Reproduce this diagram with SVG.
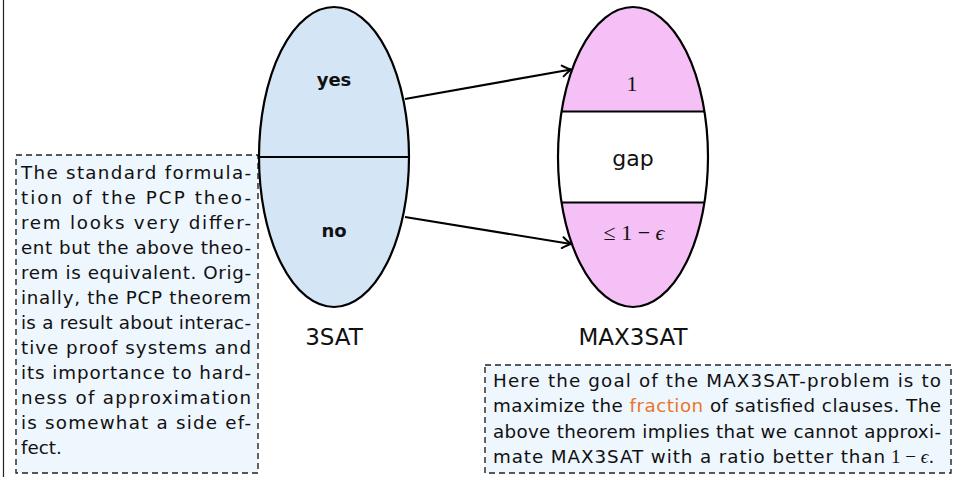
<svg xmlns="http://www.w3.org/2000/svg" width="962" height="477" viewBox="0 0 962 477">
<style>
.t{font-family:"DejaVu Sans","Liberation Sans",sans-serif;fill:#111}
.box{font-size:18.3px}
.note{fill:#eef6fe;stroke:#222;stroke-width:1.4;stroke-dasharray:6 4}
.ell{stroke:#000;stroke-width:2.2}
.lbl{font-size:18px;font-weight:bold;text-anchor:middle}
.name{font-size:23px;text-anchor:middle}
.m{font-family:"Liberation Serif","DejaVu Serif",serif}
.conn{stroke:#000;stroke-width:2.2;fill:none}
</style>
<defs>
<marker id="ah" markerWidth="14" markerHeight="14" refX="0" refY="0" viewBox="-10 -7 12 14" orient="auto" markerUnits="userSpaceOnUse">
<path d="M-8.5,-5.5 Q-3,-1.5 0,0 Q-3,1.5 -8.5,5.5" fill="none" stroke="#000" stroke-width="2" stroke-linecap="round"/>
</marker>
<clipPath id="rc"><ellipse cx="633" cy="157" rx="75" ry="150"/></clipPath>
</defs>
<line x1="3.5" y1="0" x2="3.5" y2="477" stroke="#222" stroke-width="1.2"/>

<g id="note-left">
<rect class="note" x="16" y="155" width="242" height="318"/>
<g class="t box">
<text x="21" y="179" textLength="230" lengthAdjust="spacing">The standard formula-</text>
<text x="21" y="204" textLength="230" lengthAdjust="spacing">tion of the PCP theo-</text>
<text x="21" y="229" textLength="230" lengthAdjust="spacing">rem looks very differ-</text>
<text x="21" y="254" textLength="230" lengthAdjust="spacing">ent but the above theo-</text>
<text x="21" y="279" textLength="230" lengthAdjust="spacing">rem is equivalent. Orig-</text>
<text x="21" y="304" textLength="230" lengthAdjust="spacing">inally, the PCP theorem</text>
<text x="21" y="329" textLength="230" lengthAdjust="spacing">is a result about interac-</text>
<text x="21" y="354" textLength="230" lengthAdjust="spacing">tive proof systems and</text>
<text x="21" y="379" textLength="230" lengthAdjust="spacing">its importance to hard-</text>
<text x="21" y="404" textLength="230" lengthAdjust="spacing">ness of approximation</text>
<text x="21" y="429" textLength="230" lengthAdjust="spacing">is somewhat a side ef-</text>
<text x="21" y="454">fect.</text>
</g>
</g>

<g id="sat3">
<ellipse class="ell" cx="334" cy="157" rx="75" ry="150" fill="#d4e5f6"/>
<line class="ell" x1="259" y1="157" x2="409" y2="157"/>
<text class="t lbl" x="334" y="86">yes</text>
<text class="t lbl" x="334" y="237">no</text>
<text class="t name" x="334" y="345">3SAT</text>
</g>

<g id="max3sat">
<ellipse cx="633" cy="157" rx="75" ry="150" fill="#f5c0f5"/>
<rect x="555" y="111.5" width="160" height="91" fill="#fff" clip-path="url(#rc)"/>
<line class="ell" x1="561.5" y1="111.5" x2="704.5" y2="111.5"/>
<line class="ell" x1="561.5" y1="202.5" x2="704.5" y2="202.5"/>
<ellipse class="ell" cx="633" cy="157" rx="75" ry="150" fill="none"/>
<text class="m" x="632" y="91" font-size="22" text-anchor="middle" fill="#111">1</text>
<text class="t" x="633" y="166" font-size="22" text-anchor="middle">gap</text>
<text class="m" x="634" y="240" font-size="22" text-anchor="middle" fill="#111">≤ 1 − <tspan font-style="italic">ϵ</tspan></text>
<text class="t name" x="633" y="345">MAX3SAT</text>
</g>

<g id="note-right">
<rect class="note" x="485" y="365" width="466" height="108"/>
<g class="t box">
<text x="493" y="387" textLength="448" lengthAdjust="spacing">Here the goal of the MAX3SAT-problem is to</text>
<text x="493" y="412" textLength="448" lengthAdjust="spacing">maximize the <tspan fill="#e8772a">fraction</tspan> of satisfied clauses. The</text>
<text x="493" y="438" textLength="448" lengthAdjust="spacing">above theorem implies that we cannot approxi-</text>
<text x="493" y="463" textLength="392" lengthAdjust="spacing">mate MAX3SAT with a ratio better than</text>
<text class="m" x="891" y="463" font-size="19" fill="#111">1 − <tspan font-style="italic">ϵ</tspan><tspan font-family="DejaVu Sans" font-size="18.3">.</tspan></text>
</g>
</g>

<g id="connectors">
<line class="conn" x1="405" y1="99" x2="571" y2="69.5" marker-end="url(#ah)"/>
<line class="conn" x1="405" y1="217" x2="571" y2="244" marker-end="url(#ah)"/>
</g>
</svg>
